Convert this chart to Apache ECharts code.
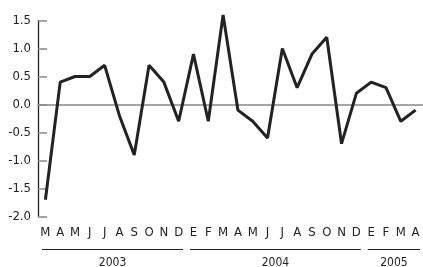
<!DOCTYPE html>
<html>
<head>
<meta charset="utf-8">
<script src="https://cdn.jsdelivr.net/npm/echarts@6/dist/echarts.min.js"></script>
<style>
  html, body { margin: 0; padding: 0; background: #fff; }
  #chart { width: 423px; height: 267px; }
</style>
</head>
<body>
<div id="chart"></div>
<script>
  // monthly labels, Mar 2003 - Apr 2005
  const months = ['M','A','M','J','J','A','S','O','N','D',
                  'E','F','M','A','M','J','J','A','S','O','N','D',
                  'E','F','M','A'];
  const values = [-1.7, 0.4, 0.5, 0.5, 0.7, -0.2, -0.9, 0.7, 0.4, -0.3,
                  0.9, -0.3, 1.6, -0.1, -0.3, -0.6, 1.0, 0.3, 0.9, 1.2, -0.7, 0.2,
                  0.4, 0.3, -0.3, -0.1];
  // year groups: first month index, last month index, label
  const years = [[0, 9, '2003'], [10, 21, '2004'], [22, 25, '2005']];

  const font = '"Liberation Sans Narrow", "DejaVu Sans Condensed", sans-serif';
  const chart = echarts.init(document.getElementById('chart'));

  chart.setOption({
    animation: false,
    grid: { left: 38, right: 0, top: 20.5, bottom: 50.5 },
    xAxis: [
      {
        type: 'category',
        data: months,
        axisLine: { show: false, onZero: false },
        axisTick: { show: false },
        axisLabel: { color: '#222', fontSize: 13, fontFamily: font, margin: 10 }
      },
      {
        type: 'category',
        data: months,
        position: 'bottom',
        axisLine: { onZero: true, lineStyle: { color: '#888', width: 1.5 } },
        axisTick: { alignWithLabel: true, length: 4, lineStyle: { color: '#888', width: 1.2 } },
        axisLabel: { show: false }
      }
    ],
    yAxis: {
      type: 'value',
      min: -2, max: 1.5, interval: 0.5,
      splitLine: { show: false },
      axisLine: { show: true, lineStyle: { color: '#222', width: 1.3 } },
      axisTick: { show: true, inside: true, length: 9, lineStyle: { color: '#888', width: 1.5 } },
      axisLabel: {
        color: '#222', fontSize: 13, fontFamily: font, margin: 7,
        formatter: v => v.toFixed(1)
      }
    },
    series: [
      {
        type: 'line',
        data: values,
        symbol: 'none',
        clip: false,
        lineStyle: { color: '#222', width: 3 },
        z: 3
      },
      {
        type: 'custom',
        data: years,
        encode: { x: [0, 1] },
        clip: false,
        renderItem: function (params, api) {
          const s = api.coord([api.value(0), -2]);
          const e = api.coord([api.value(1), -2]);
          const band = api.size([1, 0])[0];
          const x1 = s[0] - band / 2 + 4;
          const x2 = e[0] + band / 2 - 3;
          const y = s[1] + 33;
          return {
            type: 'group',
            children: [
              { type: 'line', shape: { x1: x1, y1: y, x2: x2, y2: y },
                style: { stroke: '#222', lineWidth: 1.2 } },
              { type: 'text', style: {
                  text: years[params.dataIndex][2], x: (x1 + x2) / 2, y: y + 13,
                  textAlign: 'center', textVerticalAlign: 'middle',
                  fill: '#222', font: '12px ' + font } }
            ]
          };
        }
      }
    ]
  });
</script>
</body>
</html>
